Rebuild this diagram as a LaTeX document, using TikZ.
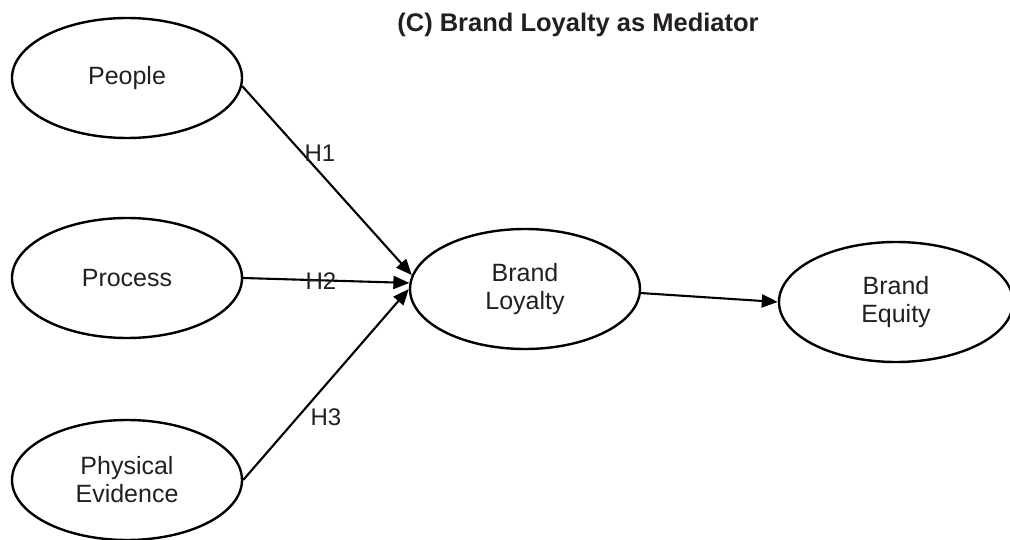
\documentclass[tikz,border=0pt]{standalone}
\usepackage{fontspec}
\setmainfont{Liberation Sans}
\usetikzlibrary{shapes.geometric,arrows.meta}
\definecolor{ink}{HTML}{231F20}
\begin{document}
\begin{tikzpicture}[x=1pt,y=-1pt,
  construct/.style={ellipse, draw=black, line width=2.4pt, minimum width=230pt,
    minimum height=120pt, inner sep=0pt, align=center, text=ink,
    font=\fontsize{25}{28}\selectfont},
  path/.style={line width=2.1pt, draw=black, -{Triangle[length=16pt,width=13pt]}},
  hyp/.style={text=ink, font=\fontsize{24}{28}\selectfont, inner sep=0pt}]
\useasboundingbox (0,0) rectangle (1010,540);

\node[font=\bfseries\fontsize{25.5}{30}\selectfont, text=ink, anchor=base] (title) at (578,32) {(C) Brand Loyalty as Mediator};

\node[construct] (people) at (127,78) {People};
\node[construct] (process) at (127,278) {Process};
\node[construct] (physical) at (127,480) {Physical\\Evidence};
\node[construct] (loyalty) at (525,289) {Brand\\Loyalty};
\node[construct, minimum width=234pt] (equity) at (896,302) {Brand\\Equity};

\draw[path] (people.-4) -- (loyalty.173);
\draw[path] (process.east) -- (loyalty.177);
\draw[path] (physical.east) -- (loyalty.180);
\draw[path] (loyalty.-2) -- (equity.west);

\node[hyp] (h1) at (320,153) {H1};
\node[hyp] (h2) at (321,281) {H2};
\node[hyp] (h3) at (326,417) {H3};
\end{tikzpicture}
\end{document}
